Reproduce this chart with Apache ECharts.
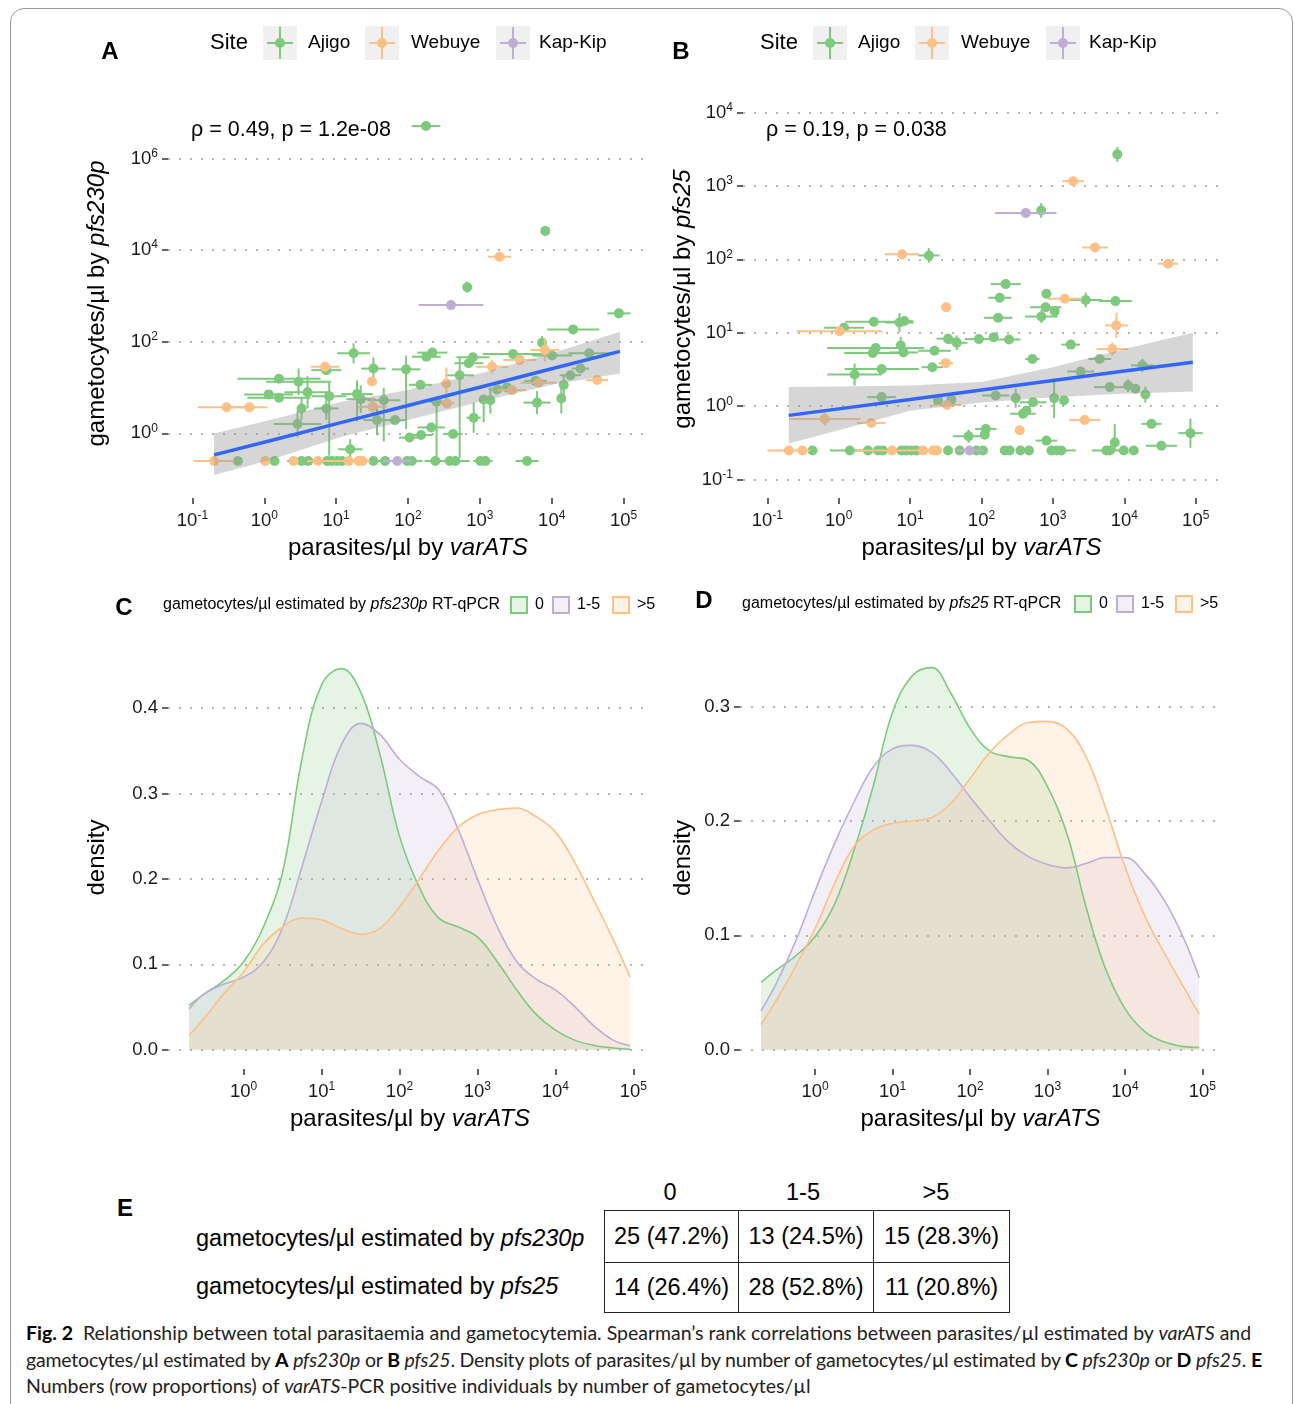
<!DOCTYPE html>
<html>
<head>
<meta charset="utf-8">
<script src="https://cdn.jsdelivr.net/npm/echarts@6/dist/echarts.min.js"></script>
<style>
  body { margin: 0; background: #fff; width: 1295px; height: 1404px; overflow: hidden; position: relative;
         font-family: 'Liberation Sans', Arial, sans-serif; color: #000; }
  .frame { position: absolute; left: 10px; top: 8px; width: 1283px; height: 1440px; border: 1px solid #9a9a9a;
           border-radius: 14px; box-sizing: border-box; }
  #chart { position: absolute; left: 0; top: 0; width: 1295px; height: 1175px; }
  .letter { position: absolute; font-weight: bold; font-size: 24px; line-height: 24px; }
  .colhead { position: absolute; top: 1180px; font-size: 23.5px; text-align: center; line-height: 24px; }
  .rowlbl { position: absolute; left: 196px; font-size: 23.5px; line-height: 24px; white-space: nowrap; }
  #tab { position: absolute; left: 604px; top: 1210px; border-collapse: collapse; font-size: 23.5px; }
  #tab td { border: 1.5px solid #222; text-align: center; padding: 0; white-space: nowrap; }
  .caption { position: absolute; left: 26px; top: 1320px; font-family: 'Lato', 'Open Sans', sans-serif;
             font-size: 19.5px; line-height: 26.5px; white-space: nowrap; color: #222; }
  .caption b { color: #000; }
  .tight { letter-spacing: -0.2px; }
</style>
</head>
<body>
<div class="frame"></div>
<div id="chart"></div>
<div class="letter" style="left:117px; top:1196px;">E</div>
<div id="heads"></div>
<div id="rows"></div>
<table id="tab"></table>
<div class="caption">
  <b>Fig. 2</b>&nbsp; Relationship between total parasitaemia and gametocytemia. Spearman’s rank correlations between parasites/µl estimated by <i>varATS</i> and<br>
  <span class="tight">gametocytes/µl estimated by <b>A</b> <i>pfs230p</i> or <b>B</b> <i>pfs25</i>. Density plots of parasites/µl by number of gametocytes/µl estimated by <b>C</b> <i>pfs230p</i> or <b>D</b> <i>pfs25</i>. <b>E</b></span><br>
  Numbers (row proportions) of <i>varATS</i>-PCR positive individuals by number of gametocytes/µl
</div>
<script>
// ---------- data ----------
// scatter points: [parasites/µl, gametocytes/µl, x error (decades), y error down (decades), y error up (decades)]
// gametocyte-negative samples sit on the 0.25 row
const siteNames = ['Ajigo', 'Webuye', 'Kap-Kip'];
const siteColors = ['#7FC97F', '#FDC086', '#BEAED4'];

const aAjigo = [
  [1.6, 15.6, 0.58], [3.0, 13.4, 0.45, 0.29, 0.29], [1.15, 7.1, 0.34], [1.6, 6.0, 0.44],
  [4.0, 7.9, 0.32, 0.35, 0.35], [8.0, 6.5, 0.24, 1.3, 0.3], [3.3, 3.5, 0, 0.25, 0.25], [7.3, 3.5, 0.17, 0.25, 0.25],
  [2.9, 1.6, 0.33, 0.29, 0.29], [7.3, 24, 0.21], [17.5, 56, 0.23, 0.22, 0.22], [33, 26, 0.17, 0.24, 0.24],
  [19.5, 7.2, 0.22, 0.6, 0.3], [46, 5.3, 0.23, 0.9, 0.27], [94, 25, 0.2, 1.3, 0.3], [15.7, 0.45, 0.17, 0.22, 0.22],
  [37, 1.95, 0.19, 0.33, 0.33], [66, 1.95, 0.15], [105, 0.81, 0.15], [22, 5.6, 0.2, 0.3, 0.3],
  [86000, 417, 0.16], [19900, 186, 0.36], [7350, 95, 0, 0.15, 0.15], [10100, 50, 0.28], [33200, 56, 0.29],
  [2900, 54, 0.42], [218, 58, 0.21], [180, 47, 0.2], [800, 46, 0.23], [700, 34, 0.2], [524, 18.5, 0.2, 1.8, 0.38],
  [149, 11.5, 0.16], [25100, 26, 0.12], [18200, 18.6, 0.15], [14700, 11.4, 0, 0.22, 0.22], [5930, 14, 0.16],
  [2390, 10.1, 0.1], [13600, 5.8, 0, 0.33, 0.33], [6250, 4.7, 0.19, 0.25, 0.25], [1400, 5.3, 0, 0.29, 0.29],
  [1130, 5.5, 0, 0.5, 0.1], [1740, 9.1, 0.12], [250, 4.9, 0.1, 1.2, 0.1], [820, 2.2, 0.1, 0.33, 0.33],
  [211, 1.35, 0.19], [152, 0.92, 0.16], [424, 0.97, 0.13], [8130, 26300, 0.05, 0.1, 0.1], [667, 1550, 0.04, 0.12, 0.12],
  [178, 5100000, 0.2],
  [0.43, 0.25], [1.39, 0.25], [3.3, 0.25, 0.2], [4.1, 0.25, 0.15], [7.5, 0.25, 0.2], [8.7, 0.25], [10.3, 0.25, 0.15],
  [12.1, 0.25], [33, 0.25, 0.12], [48, 0.25, 0.15], [97, 0.25, 0.15], [113, 0.25, 0.15], [240, 0.25, 0.15],
  [380, 0.25], [456, 0.25, 0.2], [1016, 0.25, 0.1], [1194, 0.25, 0.1], [4540, 0.25, 0.16]
];
const aWebuye = [
  [0.30, 3.7, 0.4], [0.62, 3.7, 0.25], [7.0, 28.5, 0.2], [31.5, 13.6, 0, 0.1, 0.1], [32, 3.8, 0.2, 0.2, 0.2],
  [8000, 66, 0.2, 0.25, 0.25], [3590, 40, 0.23], [1480, 28.5, 0.22, 0.15, 0.15], [342, 12.3, 0, 0.35, 0.35],
  [42900, 14.6, 0.15], [6600, 12.8, 0.25], [2800, 8.8, 0.2], [349, 4.5, 0.1], [1880, 7180, 0.16],
  [0.2, 0.25, 0.28], [1.03, 0.25], [2.55, 0.25], [5.6, 0.25, 0.15], [14.9, 0.25, 0.3], [20.6, 0.25], [23.3, 0.25]
];
const aKapKip = [[397, 631, 0.45], [71, 0.25, 0.2]];

const bAjigo = [
  [3.1, 14.1, 0.4], [7.1, 13.8, 0.2, 0.13, 0.13], [8.3, 14.5, 0.12], [1.19, 11.7, 0.28], [34, 8.3, 0.16],
  [45, 7.3, 0.15, 0.1, 0.1], [92, 8.2, 0.2], [3.3, 6.2, 0.68], [3.0, 5.3, 0.4], [7.4, 6.7, 0, 0.12, 0.12],
  [8.1, 5.4, 0.2], [22, 5.7, 0.23], [20.5, 3.4, 0.15], [4.0, 3.2, 0.52], [1.67, 2.7, 0.38, 0.15, 0.15],
  [4.0, 1.33, 0.2], [24.6, 1.2], [37.8, 1.22], [66, 0.39, 0.22, 0.09, 0.09],
  [218, 46, 0.21], [180, 30, 0.16], [811, 34], [2880, 28, 0.23, 0.1, 0.1], [7500, 27, 0.23], [792, 22.3, 0.22],
  [1060, 19.7], [171, 16, 0.2], [690, 16.7, 0.23, 0.09, 0.09], [148, 8.7], [243, 8.1, 0.16], [1780, 6.9, 0.13],
  [516, 4.4, 0.1], [4530, 4.4, 0.16], [2450, 2.97, 0.19], [17900, 3.6, 0.16, 0.09, 0.09], [158, 1.4, 0.19],
  [301, 1.29, 0, 0.13, 0.13], [527, 1.13, 0.19], [1040, 1.29, 0, 0.27, 0.27], [1430, 1.2], [6250, 1.82, 0.22],
  [11300, 1.91, 0, 0.09, 0.09], [14300, 1.73], [19700, 1.44, 0, 0.11, 0.11], [382, 0.79, 0.18], [426, 0.87],
  [115, 0.49, 0.15], [111, 0.41], [811, 0.34, 0.15], [24000, 0.575, 0.14], [84300, 0.43, 0.17, 0.2, 0.2],
  [7350, 0.32, 0, 0.1, 0.25], [33000, 0.29, 0.22], [7980, 2690, 0, 0.1, 0.1], [685, 463, 0, 0.1, 0.1],
  [18.3, 113, 0.15, 0.1, 0.1],
  [0.43, 0.25], [1.43, 0.25, 0.28], [2.57, 0.25], [3.55, 0.25], [4.17, 0.25], [7.53, 0.25], [8.85, 0.25],
  [10.4, 0.25], [12.2, 0.25], [34, 0.25], [49.4, 0.25], [84.7, 0.25], [105, 0.25], [211, 0.25], [248, 0.25],
  [351, 0.25], [463, 0.25], [953, 0.25], [1120, 0.25], [1315, 0.25, 0.2], [5610, 0.25], [6250, 0.25, 0.25],
  [9820, 0.25], [13550, 0.25]
];
const bWebuye = [
  [32, 22.3], [1.03, 10.5, 0.6], [31.5, 3.86, 0.1], [32.9, 1.04, 0.2], [0.64, 0.67, 0.5, 0.09, 0.09],
  [2.86, 0.59, 0.2], [41000, 87, 0.14], [1470, 29, 0.24], [7740, 12.6, 0.16, 0.17, 0.17], [6800, 6.0, 0.22, 0.09, 0.09],
  [2790, 0.65, 0.22], [343, 0.47], [1920, 1160, 0.15], [3890, 145, 0.18], [7.7, 117, 0.24],
  [0.2, 0.25, 0.3], [0.31, 0.25], [5.6, 0.25, 0.5], [15.2, 0.25], [21, 0.25], [23.8, 0.25]
];
const bKapKip = [[417, 427, 0.43], [68, 0.25, 0.2]];

// smoothed fit (lm on log scale) with confidence band
const fitXA = [0.2, 1.2, 12, 100, 1000, 10000, 89000];
const fitA = [0.34, 0.69, 1.74, 4.07, 10.2, 25.7, 61.7];
const fitLoA = [0.123, 0.263, 0.85, 1.95, 4.9, 11.5, 20.4];
const fitHiA = [1.0, 1.95, 4.9, 8.9, 20.4, 56, 166];
const fitXB = [0.2, 1, 10, 100, 1000, 10000, 91000];
const fitB = [0.75, 0.92, 1.23, 1.66, 2.24, 3.02, 3.98];
const fitLoB = [0.31, 0.47, 0.87, 1.12, 1.32, 1.48, 1.58];
const fitHiB = [1.82, 1.86, 1.91, 2.14, 3.39, 6.03, 10];
const corrA = 'ρ = 0.49, p = 1.2e-08';
const corrB = 'ρ = 0.19, p = 0.038';

// density estimates over parasites/µl
const densX = [0.2, 0.32, 0.56, 1, 1.8, 3.2, 5.6, 10, 18, 32, 56, 100, 180, 320, 560, 1000,
               1800, 3200, 5600, 10000, 18000, 32000, 56000, 91000];
const cZero = [0.052, 0.066, 0.081, 0.103, 0.144, 0.21, 0.34, 0.427, 0.446, 0.418, 0.346, 0.25,
               0.19, 0.154, 0.144, 0.132, 0.103, 0.07, 0.042, 0.023, 0.011, 0.005, 0.002, 0.0005];
const cLow = [0.048, 0.066, 0.077, 0.085, 0.103, 0.144, 0.214, 0.29, 0.357, 0.382, 0.369, 0.34,
              0.32, 0.304, 0.259, 0.2, 0.144, 0.103, 0.083, 0.07, 0.05, 0.027, 0.011, 0.005];
const cHigh = [0.017, 0.038, 0.066, 0.091, 0.124, 0.144, 0.154, 0.152, 0.142, 0.135, 0.142, 0.167,
               0.2, 0.234, 0.26, 0.275, 0.281, 0.283, 0.273, 0.255, 0.218, 0.173, 0.128, 0.085];
const dZero = [0.059, 0.07, 0.082, 0.099, 0.128, 0.175, 0.23, 0.295, 0.327, 0.334, 0.312, 0.281,
               0.261, 0.256, 0.253, 0.23, 0.188, 0.123, 0.071, 0.036, 0.016, 0.007, 0.003, 0.002];
const dLow = [0.034, 0.059, 0.095, 0.139, 0.181, 0.217, 0.247, 0.263, 0.266, 0.26, 0.243, 0.221,
              0.2, 0.181, 0.169, 0.162, 0.159, 0.163, 0.168, 0.168, 0.154, 0.131, 0.099, 0.063];
const dHigh = [0.022, 0.044, 0.073, 0.106, 0.146, 0.178, 0.192, 0.198, 0.2, 0.203, 0.215, 0.237,
               0.26, 0.276, 0.286, 0.287, 0.28, 0.255, 0.212, 0.16, 0.117, 0.085, 0.056, 0.031];
const groupNames = ['0', '1-5', '>5'];
const groupColors = ['#7FC97F', '#BEAED4', '#FDC086'];

// tick positions (powers of ten / density)
const xExpScatter = [-1, 0, 1, 2, 3, 4, 5];
const yExpA = [0, 2, 4, 6];
const yExpB = [-1, 0, 1, 2, 3, 4];
const xExpDens = [0, 1, 2, 3, 4, 5];
const densTicksC = [0, 0.1, 0.2, 0.3, 0.4];
const densTicksD = [0, 0.1, 0.2, 0.3];

// table E
const tableCols = ['0', '1-5', '>5'];
const tableRows = ['pfs230p', 'pfs25'];
const tableCounts = [[25, 13, 15], [14, 28, 11]];

// ---------- chart ----------
const lg = Math.log10;
const FONT = "'Liberation Sans', Arial, sans-serif";
const INK = '#1a1a1a';

const supRich = {
  b: { fontSize: 18.5, color: INK, fontFamily: FONT, lineHeight: 22 },
  s: { fontSize: 12, color: INK, fontFamily: FONT, lineHeight: 12, verticalAlign: 'top' }
};
const nameRich = {
  t: { fontSize: 24, color: '#000', fontFamily: FONT },
  i: { fontSize: 24, color: '#000', fontFamily: FONT, fontStyle: 'italic' }
};
const gridDots = { show: true, lineStyle: { color: '#b5b5b5', width: 2, type: [2, 9] } };

function axis(grid, min, max, ticks, labelFmt, name, gap, isY) {
  return {
    type: 'value', gridIndex: grid, min: min, max: max,
    name: name, nameLocation: 'middle', nameGap: gap,
    nameTextStyle: { rich: nameRich },
    axisLine: { show: false, onZero: false },
    axisTick: { show: true, length: 6, customValues: ticks, lineStyle: { color: '#333', width: 1.5 } },
    axisLabel: { customValues: ticks, formatter: labelFmt, rich: supRich, margin: isY ? 10 : 12,
                 fontSize: 18.5, color: INK, fontFamily: FONT },
    splitLine: isY ? gridDots : { show: false }
  };
}
const powFmt = v => '{b|10}{s|' + Math.round(v) + '}';
const decFmt = v => v.toFixed(1);
const xName = '{t|parasites/µl by }{i|varATS}';

function pointSeries(idx, pts, color) {
  return {
    type: 'custom', xAxisIndex: idx, yAxisIndex: idx, z: 2, clip: true,
    data: pts.map(p => [lg(p[0]), lg(p[1]), p[2] || 0, p[3] || 0, p[4] || 0]),
    encode: { x: 0, y: 1 },
    renderItem: function (params, api) {
      const x = api.value(0), y = api.value(1);
      const ex = api.value(2), ed = api.value(3), eu = api.value(4);
      const c = api.coord([x, y]);
      const st = { stroke: color, lineWidth: 2 };
      const kids = [];
      if (ex > 0) {
        const a = api.coord([x - ex, y]), b = api.coord([x + ex, y]);
        kids.push({ type: 'line', shape: { x1: a[0], y1: a[1], x2: b[0], y2: b[1] }, style: st });
      }
      if (ed > 0 || eu > 0) {
        const a = api.coord([x, y - ed]), b = api.coord([x, y + eu]);
        kids.push({ type: 'line', shape: { x1: a[0], y1: a[1], x2: b[0], y2: b[1] }, style: st });
      }
      kids.push({ type: 'circle', shape: { cx: c[0], cy: c[1], r: 5 }, style: { fill: color } });
      return { type: 'group', children: kids };
    }
  };
}

function bandSeries(idx, xs, lo, hi) {
  return {
    type: 'custom', xAxisIndex: idx, yAxisIndex: idx, z: 3, silent: true,
    data: xs.map((x, i) => [lg(x), lg(lo[i]), lg(hi[i])]),
    encode: { x: 0, y: 1 },
    renderItem: function (params, api) {
      if (params.dataIndex !== 0) return null;
      const pts = xs.map((x, i) => api.coord([lg(x), lg(hi[i])]));
      for (let i = xs.length - 1; i >= 0; i--) pts.push(api.coord([lg(xs[i]), lg(lo[i])]));
      return { type: 'polygon', shape: { points: pts }, style: { fill: 'rgba(153,153,153,0.4)' } };
    }
  };
}

function fitSeries(idx, xs, ys) {
  return {
    type: 'line', xAxisIndex: idx, yAxisIndex: idx, z: 4, showSymbol: false, silent: true,
    data: xs.map((x, i) => [lg(x), lg(ys[i])]),
    lineStyle: { color: '#3366FF', width: 3.5 }
  };
}

function densSeries(idx, ys, color, name) {
  return {
    type: 'line', name: name, xAxisIndex: idx, yAxisIndex: idx, smooth: 0.4, showSymbol: false,
    data: densX.map((x, i) => [lg(x), ys[i]]),
    lineStyle: { color: color, width: 1.6 },
    areaStyle: { color: color, opacity: 0.2 }
  };
}

// legends and labels (graphic)
function txt(x, y, text, size, extra) {
  return Object.assign({ type: 'text', x: x, y: y, silent: true,
    style: Object.assign({ text: text, fontSize: size, fontFamily: FONT, fill: '#000', verticalAlign: 'middle' },
      extra || {}) });
}
function siteLegend(x0) {
  const els = [txt(x0, 43, 'Site', 22)];
  const keyX = [53, 155, 286], lblX = [98, 201, 329];
  siteNames.forEach((n, i) => {
    const kx = x0 + keyX[i];
    els.push({ type: 'rect', shape: { x: kx, y: 26, width: 34, height: 34 }, style: { fill: '#f0f0f0' }, silent: true });
    els.push({ type: 'line', shape: { x1: kx + 4, y1: 43, x2: kx + 30, y2: 43 }, style: { stroke: siteColors[i], lineWidth: 2 } });
    els.push({ type: 'line', shape: { x1: kx + 17, y1: 27, x2: kx + 17, y2: 59 }, style: { stroke: siteColors[i], lineWidth: 2 } });
    els.push({ type: 'circle', shape: { cx: kx + 17, cy: 43, r: 5 }, style: { fill: siteColors[i] } });
    els.push(txt(x0 + lblX[i], 43, n, 19));
  });
  return els;
}
function groupLegend(x0, y, gene, keyXs) {
  const els = [txt(x0, y, 'gametocytes/µl estimated by {i|' + gene + '} RT-qPCR', 16,
    { rich: { i: { fontStyle: 'italic', fontSize: 16, fontFamily: FONT } } })];
  groupNames.forEach((n, i) => {
    const kx = keyXs[i];
    els.push({ type: 'rect', shape: { x: kx, y: y - 8, width: 16, height: 16 },
      style: { fill: 'rgba(' + hexRgb(groupColors[i]) + ',0.2)', stroke: groupColors[i], lineWidth: 2 } });
    els.push(txt(kx + 24, y, n, 16));
  });
  return els;
}
function hexRgb(h) {
  return [1, 3, 5].map(i => parseInt(h.substr(i, 2), 16)).join(',');
}

const series = [];
[[aAjigo, aWebuye, aKapKip], [bAjigo, bWebuye, bKapKip]].forEach((sets, p) => {
  sets.forEach((pts, s) => series.push(pointSeries(p, pts, siteColors[s])));
});
series.push(bandSeries(0, fitXA, fitLoA, fitHiA), fitSeries(0, fitXA, fitA));
series.push(bandSeries(1, fitXB, fitLoB, fitHiB), fitSeries(1, fitXB, fitB));
[cZero, cLow, cHigh].forEach((ys, i) => series.push(densSeries(2, ys, groupColors[i], groupNames[i])));
[dZero, dLow, dHigh].forEach((ys, i) => series.push(densSeries(3, ys, groupColors[i], groupNames[i])));

const graphics = [].concat(
  siteLegend(210), siteLegend(760),
  groupLegend(163, 605, 'pfs230p', [511, 553, 613]),
  groupLegend(742, 604, 'pfs25', [1075, 1117, 1176]),
  [txt(191, 130, corrA, 21.5), txt(766, 130, corrB, 21.5),
   txt(110, 52, 'A', 24, { fontWeight: 'bold', align: 'center' }),
   txt(681, 52, 'B', 24, { fontWeight: 'bold', align: 'center' }),
   txt(124, 608, 'C', 24, { fontWeight: 'bold', align: 'center' }),
   txt(704, 601, 'D', 24, { fontWeight: 'bold', align: 'center' })]
);

const chart = echarts.init(document.getElementById('chart'), null, { renderer: 'canvas' });
chart.setOption({
  animation: false,
  textStyle: { fontFamily: FONT },
  grid: [
    { left: 168, top: 109, width: 480, height: 389 },
    { left: 743, top: 100, width: 477, height: 398 },
    { left: 168, top: 646, width: 484, height: 423 },
    { left: 740, top: 647, width: 481, height: 422 }
  ],
  xAxis: [
    axis(0, -1.34, 5.34, xExpScatter, powFmt, xName, 38, false),
    axis(1, -1.34, 5.34, xExpScatter, powFmt, xName, 38, false),
    axis(2, -0.97, 5.24, xExpDens, powFmt, xName, 38, false),
    axis(3, -0.97, 5.24, xExpDens, powFmt, xName, 38, false)
  ],
  yAxis: [
    axis(0, -1.41, 7.08, yExpA, powFmt, '{t|gametocytes/µl by }{i|pfs230p}', 59, true),
    axis(1, -1.25, 4.17, yExpB, powFmt, '{t|gametocytes/µl by }{i|pfs25}', 48, true),
    axis(2, -0.0225, 0.4725, densTicksC, decFmt, '{t|density}', 59, true),
    axis(3, -0.01675, 0.352, densTicksD, decFmt, '{t|density}', 45, true)
  ],
  series: series,
  graphic: graphics
});

// ---------- table E ----------
const colCenters = [670, 803, 936];
document.getElementById('heads').innerHTML = tableCols.map((c, i) =>
  '<div class="colhead" style="left:' + (colCenters[i] - 60) + 'px; width:120px;">' + c.replace('>', '&gt;') + '</div>').join('');
const rowTops = [1226, 1274];
document.getElementById('rows').innerHTML = tableRows.map((g, i) =>
  '<div class="rowlbl" style="top:' + rowTops[i] + 'px;">gametocytes/µl estimated by <i>' + g + '</i></div>').join('');
const rowHeights = [52, 50];
const colWidths = [133, 134, 135];
document.getElementById('tab').innerHTML = tableCounts.map((row, r) => {
  const tot = row.reduce((a, b) => a + b, 0);
  return '<tr style="height:' + rowHeights[r] + 'px">' + row.map((n, c) =>
    '<td style="width:' + colWidths[c] + 'px">' + n + ' (' + (100 * n / tot).toFixed(1) + '%)</td>').join('') + '</tr>';
}).join('');
</script>
</body>
</html>
